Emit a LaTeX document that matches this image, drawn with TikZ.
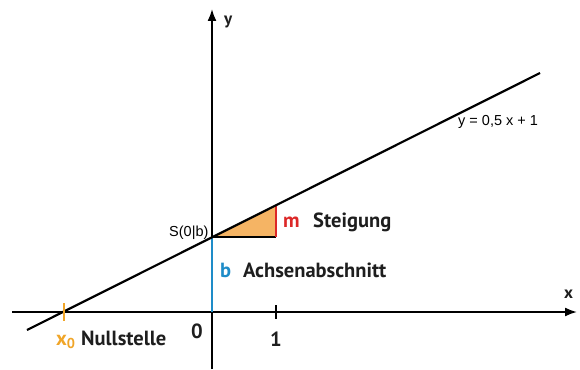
\documentclass[tikz,border=0pt]{standalone}
\usepackage{fontspec}
\setmainfont{PT Sans}
\newfontfamily\arialf{Liberation Sans}
\usetikzlibrary{arrows.meta}
\definecolor{achsblue}{RGB}{30,140,200}
\definecolor{nullorange}{RGB}{240,165,40}
\definecolor{triorange}{RGB}{245,180,100}
\definecolor{stred}{RGB}{220,40,40}
\definecolor{txt}{RGB}{30,30,30}
\tikzset{
  axis/.style={line width=1.8pt,-{Latex[length=12pt,width=9pt]}},
  lbl/.style={font=\bfseries\fontsize{20.5}{22}\selectfont, inner sep=0pt, text=txt, anchor=base west},
  axl/.style={font=\bfseries\fontsize{17}{19}\selectfont, inner sep=0pt, text=txt, anchor=base west},
  small/.style={font=\arialf\fontsize{14.5}{16}\selectfont, inner sep=0pt, anchor=base west}
}
\begin{document}
\begin{tikzpicture}[x=1pt,y=-1pt]
\useasboundingbox (0,0) rectangle (580,369);
% coordinates
\coordinate (O) at (212,312);
\coordinate (S) at (212,237);
\coordinate (T1) at (276,237);
\coordinate (T2) at (276,205);
\coordinate (xl) at (12,312);
\coordinate (xr) at (577,312);
\coordinate (yb) at (212,369);
\coordinate (yt) at (212,9);
\coordinate (la) at (27,330);
\coordinate (lb) at (540,73);
% triangle
\fill[triorange] (S) -- (T1) -- (T2) -- cycle;
\draw[line width=2pt] (S) -- (T1);
\draw[stred, line width=2.2pt] (T1) -- (T2);
% axes
\draw[axis] (xl) -- (xr);
\draw[axis] (yb) -- (yt);
% blue intercept
\draw[achsblue, line width=2.4pt] (O) -- (S);
% line
\draw[line width=2.2pt] (la) -- (lb);
% ticks
\draw[line width=1.4pt] (276,305) -- (276,319);
\draw[nullorange, line width=2.4pt] (64,303) -- (64,321);
% labels
\node[axl] (ylab) at (224,25) {y};
\node[axl] (xlab) at (564,298) {x};
\node[lbl] (zero) at (191,338) {0};
\node[lbl] (one) at (270,346) {1};
\node[lbl] (x0) at (56,345) {\textcolor{nullorange}{x\textsubscript{0}}};
\node[lbl] (nst) at (81,345) {Nullstelle};
\node[small] (Slab) at (169,236) {S(0|b)};
\node[lbl] (m) at (283,227) {\textcolor{stred}{m}};
\node[lbl] (steig) at (313,227) {Steigung};
\node[lbl] (b) at (220,277) {\textcolor{achsblue}{b}};
\node[lbl] (achs) at (243,277) {Achsenabschnitt};
\node[small] (eq) at (458,125) {y = 0,5 x + 1};
\end{tikzpicture}
\end{document}
